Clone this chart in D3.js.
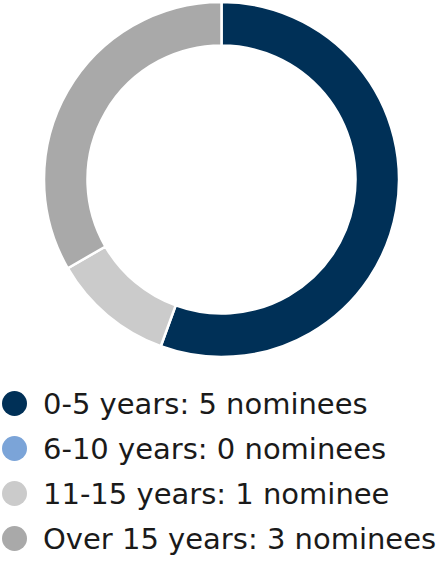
<!DOCTYPE html>
<html><head><meta charset="utf-8">
<script src="https://cdn.jsdelivr.net/npm/d3@7"></script>
<style>html,body{margin:0;padding:0;background:#fff;}</style>
</head><body>
<svg id="chart" width="442" height="563"></svg>
<script>
const categories = ["0-5 years", "6-10 years", "11-15 years", "Over 15 years"];
const values = [5, 0, 1, 3];
const labels = ["0-5 years: 5 nominees", "6-10 years: 0 nominees", "11-15 years: 1 nominee", "Over 15 years: 3 nominees"];
const colors = ["#003057", "#7ba4d8", "#cbcbcb", "#a9a9a9"];

const svg = d3.select("#chart");
const cx = 221.5, cy = 179.5, rOuter = 177.5, rInner = 134;

const pie = d3.pie().sort(null).value(d => d.value);
const arc = d3.arc().innerRadius(rInner).outerRadius(rOuter);
const data = categories.map((c, i) => ({cat: c, value: values[i], color: colors[i]}));

svg.append("g").attr("transform", `translate(${cx},${cy})`)
  .selectAll("path").data(pie(data).filter(d => d.data.value > 0)).join("path")
  .attr("d", arc).attr("fill", d => d.data.color)
  .attr("stroke", "#fff").attr("stroke-width", 2.5);

const y = d3.scaleBand().domain(categories).range([381, 561]);
const leg = svg.append("g").selectAll("g").data(data).join("g")
  .attr("transform", d => `translate(0,${y(d.cat) + y.bandwidth() / 2})`);
leg.append("circle").attr("cx", 14.5).attr("cy", 0).attr("r", 12.5).attr("fill", d => d.color);
leg.append("text").attr("x", 43).attr("y", 0).attr("dy", "0.35em")
  .attr("font-family", "'DejaVu Sans', sans-serif").attr("font-size", 29).attr("fill", "#1a1a1a")
  .text((d, i) => labels[i]);
</script>
</body></html>
